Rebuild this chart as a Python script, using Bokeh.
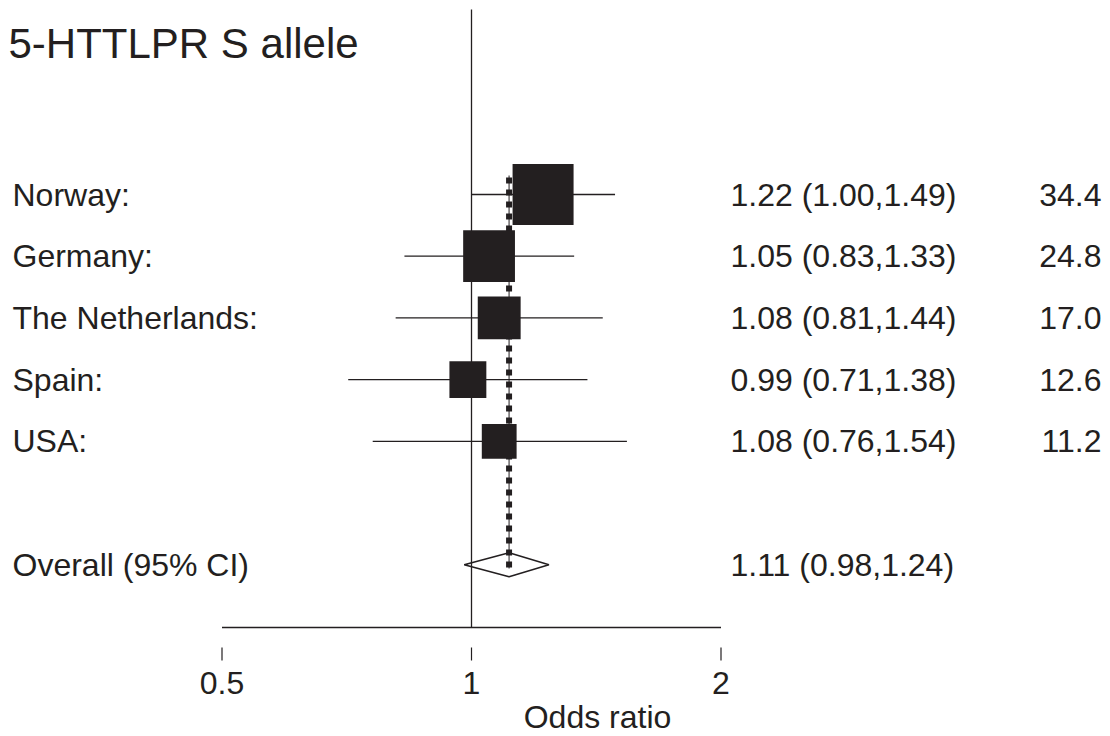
import math
from bokeh.plotting import figure
from bokeh.models import Range1d, Label, ColumnDataSource
from bokeh.embed import file_html
from bokeh.resources import INLINE
from bokeh.core.properties import value

# ---------------- data ----------------
chart_title = "5-HTTLPR S allele"
studies = ["Norway", "Germany", "The Netherlands", "Spain", "USA"]
odds = [1.22, 1.05, 1.08, 0.99, 1.08]
lower = [1.00, 0.83, 0.81, 0.71, 0.76]
upper = [1.49, 1.33, 1.44, 1.38, 1.54]
weights = [34.4, 24.8, 17.0, 12.6, 11.2]
overall_label = "Overall (95% CI)"
overall_or = 1.11
overall_lower = 0.98
overall_upper = 1.24
tick_values = [0.5, 1, 2]
tick_labels = ["0.5", "1", "2"]
x_title = "Odds ratio"

# ---------------- layout ----------------
W, H = 1110, 736
PX_PER_DOUBLING = 249.5
X_ONE = 471.0
ROW0 = 194.0
ROW_H = 61.7
INK = "#231f20"
FONT = "Liberation Sans"
FS = "32px"

def px_to_or(px):
    return 2 ** ((px - X_ONE) / PX_PER_DOUBLING)

def py_to_row(py):
    return (py - ROW0) / ROW_H

rows = list(range(len(studies)))
overall_row = len(studies) + 1

p = figure(width=W, height=H, x_axis_type="log",
           x_range=Range1d(px_to_or(0), px_to_or(W)),
           y_range=Range1d(py_to_row(H), py_to_row(0)),
           output_backend="svg", toolbar_location=None,
           x_axis_location=None, y_axis_location=None,
           min_border=0, outline_line_color=None,
           background_fill_color="white", border_fill_color="white")
p.xgrid.visible = False
p.ygrid.visible = False

# reference line at OR = 1
axis_row = py_to_row(627)
p.segment(x0=[1], y0=[py_to_row(9)], x1=[1], y1=[axis_row],
          line_color=INK, line_width=1.3)

# confidence intervals
src = ColumnDataSource(dict(
    est=odds, lo=lower, hi=upper, y=rows,
    size=[61 * math.sqrt(w / max(weights)) for w in weights]))
p.segment(x0="lo", y0="y", x1="hi", y1="y", source=src,
          line_color=INK, line_width=1.3)

# overall diamond
half = 12.0 / ROW_H
p.patch(x=[overall_lower, overall_or, overall_upper, overall_or],
        y=[overall_row, overall_row - half, overall_row, overall_row + half],
        fill_color=None, line_color=INK, line_width=1.5)

# overall dotted line
p.line(x=[overall_or, overall_or], y=[py_to_row(175), py_to_row(568)],
       line_color=INK, line_width=1)
p.line(x=[overall_or, overall_or], y=[py_to_row(177), py_to_row(568)],
       line_color=INK, line_width=6, line_dash="6 6")

# weight boxes
p.scatter(x="est", y="y", size="size", marker="square", source=src,
          fill_color=INK, line_color=None)

# x axis
p.segment(x0=[tick_values[0]], y0=[axis_row], x1=[tick_values[-1]], y1=[axis_row],
          line_color=INK, line_width=1.3)
p.segment(x0=tick_values, y0=[py_to_row(647)] * 3, x1=tick_values,
          y1=[py_to_row(660)] * 3, line_color=INK, line_width=1.2)
p.text(x=tick_values, y=[py_to_row(682)] * 3, text=tick_labels,
       text_font=value(FONT), text_font_size=FS, text_color=INK,
       text_align="center", text_baseline="middle")
p.add_layout(Label(x=597, y=py_to_row(716), x_units="screen", y_units="data",
                   text=x_title, text_font=FONT, text_font_size=FS,
                   text_color=INK, text_align="center", text_baseline="middle"))

# title
p.add_layout(Label(x=8, y=py_to_row(42.5), x_units="screen", y_units="data",
                   text=chart_title, text_font=FONT, text_font_size="42px",
                   text_color=INK, text_align="left", text_baseline="middle"))

# row texts
for r, name, o, lo, hi, w in zip(rows, studies, odds, lower, upper, weights):
    p.add_layout(Label(x=12, y=r, x_units="screen", y_units="data",
                       text=name + ":", text_font=FONT, text_font_size=FS,
                       text_color=INK, text_align="left", text_baseline="middle"))
    p.add_layout(Label(x=730, y=r, x_units="screen", y_units="data",
                       text=f"{o:.2f} ({lo:.2f},{hi:.2f})", text_font=FONT,
                       text_font_size=FS, text_color=INK,
                       text_align="left", text_baseline="middle"))
    p.add_layout(Label(x=1101, y=r, x_units="screen", y_units="data",
                       text=f"{w:.1f}", text_font=FONT, text_font_size=FS,
                       text_color=INK, text_align="right", text_baseline="middle"))

p.add_layout(Label(x=12, y=overall_row, x_units="screen", y_units="data",
                   text=overall_label, text_font=FONT, text_font_size=FS,
                   text_color=INK, text_align="left", text_baseline="middle"))
p.add_layout(Label(x=730, y=overall_row, x_units="screen", y_units="data",
                   text=f"{overall_or:.2f} ({overall_lower:.2f},{overall_upper:.2f})",
                   text_font=FONT, text_font_size=FS, text_color=INK,
                   text_align="left", text_baseline="middle"))

open("out.html", "w").write(file_html(p, INLINE))
